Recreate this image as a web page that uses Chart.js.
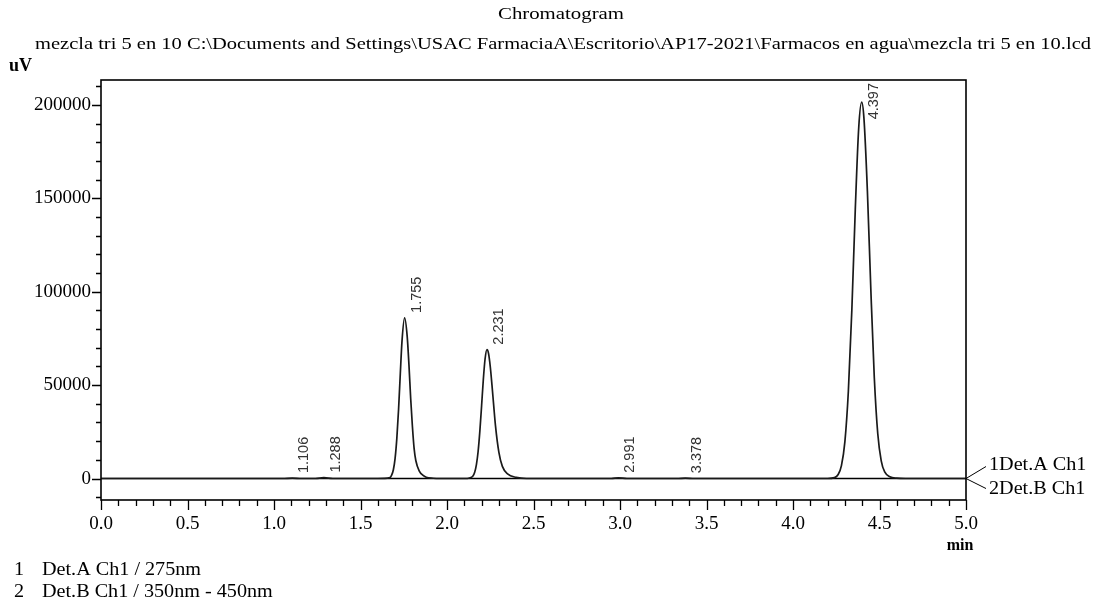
<!DOCTYPE html>
<html>
<head>
<meta charset="utf-8">
<script src="https://cdn.jsdelivr.net/npm/chart.js@4"></script>
<style>
    html, body { margin: 0; padding: 0; background: #fff; }
</style>
</head>
<body>
<canvas id="chromatogram" width="1100" height="600"></canvas>
<script>
let chartTitle = 'Chromatogram';
let chartSubtitle = 'mezcla tri 5 en 10 C:\\Documents and Settings\\USAC FarmaciaA\\Escritorio\\AP17-2021\\Farmacos en agua\\mezcla tri 5 en 10.lcd';
let footerLines = [['1', 'Det.A Ch1 / 275nm'], ['2', 'Det.B Ch1 / 350nm - 450nm']];
let channelLabels = ['1Det.A Ch1', '2Det.B Ch1'];

// Det.A Ch1 trace (min, uV)
let detATime = [0.00, 1.05, 1.106, 1.16, 1.24, 1.288, 1.34,
    1.60, 1.67, 1.68, 1.69, 1.70, 1.71, 1.72, 1.73, 1.74,
    1.755, 1.77, 1.78, 1.79, 1.80, 1.81, 1.82, 1.84, 1.86, 1.88, 1.92, 1.96,
    2.10, 2.13, 2.15, 2.16, 2.17, 2.18, 2.19, 2.20, 2.21, 2.22,
    2.231, 2.24, 2.25, 2.26, 2.27, 2.28, 2.30, 2.32, 2.35, 2.40, 2.46,
    2.95, 2.991, 3.04, 3.33, 3.378, 3.43,
    4.20, 4.24, 4.26, 4.28, 4.30, 4.32, 4.34, 4.36, 4.38,
    4.397, 4.41, 4.43, 4.45, 4.47, 4.49, 4.51, 4.53, 4.56, 4.60, 4.65, 5.00];
let detASignal = [0, 0, 250, 0, 0, 500, 0,
    0, 500, 1800, 4700, 10800, 21500, 37000, 56000, 73700,
    86000, 76000, 61000, 43000, 28000, 16000, 9500, 4000, 1800, 700, 150, 0,
    0, 300, 1400, 3400, 7500, 14600, 25500, 39000, 53000, 64000,
    69000, 67000, 60000, 50000, 39000, 28500, 14000, 6500, 2500, 600, 0,
    0, 400, 0, 0, 200, 0,
    0, 460, 2000, 6900, 19800, 46700, 90000, 144000, 188000,
    201500, 193000, 154000, 101000, 54000, 24000, 9500, 3500, 1000, 200, 0, 0];

// Det.B Ch1 stays on the baseline
let detBTime = [0.0, 5.0];
let detBSignal = [0, 0];

// peak retention times and apex heights
let peakTimes = [1.106, 1.288, 1.755, 2.231, 2.991, 3.378, 4.397];
let peakHeights = [250, 500, 86000, 69000, 400, 200, 201500];

// axis ticks
let xMajorTicks = [0.0, 0.5, 1.0, 1.5, 2.0, 2.5, 3.0, 3.5, 4.0, 4.5, 5.0];
let yMajorTicks = [0, 50000, 100000, 150000, 200000];
let xMinorStep = 0.1;
let yMinorStep = 10000;

let xTicks = [];
for (let i = 0; i <= 50; i++) xTicks.push(Math.round(i * xMinorStep * 10) / 10);
let yTicks = [];
for (let v = -10000; v <= 210000; v += yMinorStep) yTicks.push(v);

let serif = '"Liberation Serif", "DejaVu Serif", serif';

// the printout's serif runs wider than Times, so stretch it a little
function wideText(ctx, text, x, y, sx) {
    ctx.save();
    ctx.translate(x, y);
    ctx.scale(sx, 1);
    ctx.fillText(text, 0, 0);
    ctx.restore();
}

const decorations = {
    id: 'decorations',
    afterDatasetsDraw(chart) {
        let ctx = chart.ctx;
        let area = chart.chartArea;
        let xs = chart.scales.x;
        let ys = chart.scales.y;
        ctx.save();

        // frame
        ctx.strokeStyle = '#000';
        ctx.lineWidth = 1.6;
        ctx.strokeRect(area.left, area.top, area.right - area.left, area.bottom - area.top);

        // tick marks outside the frame
        ctx.lineWidth = 1.3;
        ctx.beginPath();
        yTicks.forEach(v => {
            let py = Math.round(ys.getPixelForValue(v)) + 0.5;
            let len = yMajorTicks.includes(v) ? 9 : 5;
            ctx.moveTo(area.left - len, py);
            ctx.lineTo(area.left, py);
        });
        xTicks.forEach(v => {
            let px = Math.round(xs.getPixelForValue(v)) + 0.5;
            let len = xMajorTicks.includes(v) ? 10 : 6;
            ctx.moveTo(px, area.bottom);
            ctx.lineTo(px, area.bottom + len);
        });
        ctx.stroke();

        // titles
        ctx.fillStyle = '#000';
        ctx.textBaseline = 'middle';
        ctx.textAlign = 'left';
        ctx.font = '17px ' + serif;
        let tw = ctx.measureText(chartTitle).width;
        wideText(ctx, chartTitle, 498, 15, 126 / tw);
        let sw = ctx.measureText(chartSubtitle).width;
        wideText(ctx, chartSubtitle, 35, 45, 1056 / sw);
        ctx.font = 'bold 18px ' + serif;
        ctx.fillText('uV', 9, 66);
        ctx.font = 'bold 16px ' + serif;
        ctx.textAlign = 'center';
        ctx.fillText('min', xs.getPixelForValue(5.0) - 6, 546);

        // footer
        ctx.font = '18px ' + serif;
        ctx.textAlign = 'left';
        footerLines.forEach((line, i) => {
            wideText(ctx, line[0], 14, 570 + i * 22, 1.12);
            wideText(ctx, line[1], 42, 570 + i * 22, 1.12);
        });

        // channel labels on the right
        let y0 = ys.getPixelForValue(0);
        ctx.lineWidth = 1;
        ctx.beginPath();
        ctx.moveTo(area.right, y0);
        ctx.lineTo(area.right + 20, y0 - 12);
        ctx.moveTo(area.right, y0);
        ctx.lineTo(area.right + 20, y0 + 10);
        ctx.stroke();
        wideText(ctx, channelLabels[0], area.right + 23, y0 - 13, 1.12);
        wideText(ctx, channelLabels[1], area.right + 23, y0 + 11, 1.12);

        // retention time labels, rotated
        ctx.font = '14.5px "Liberation Sans", Arial, sans-serif';
        ctx.fillStyle = '#333';
        ctx.textAlign = 'left';
        ctx.textBaseline = 'middle';
        peakTimes.forEach((t, i) => {
            let text = t.toFixed(3);
            let w = ctx.measureText(text).width;
            let px = xs.getPixelForValue(t) + 12;
            let py = ys.getPixelForValue(peakHeights[i]) - 5;
            if (py - w < area.top + 3) py = area.top + 3 + w;
            ctx.save();
            ctx.translate(px, py);
            ctx.rotate(-Math.PI / 2);
            ctx.fillText(text, 0, 0);
            ctx.restore();
        });

        ctx.restore();
    }
};

let ctx = document.getElementById('chromatogram').getContext('2d');
new Chart(ctx, {
    type: 'line',
    data: {
        datasets: [{
            label: 'Det.A Ch1',
            data: detATime.map((t, i) => ({ x: t, y: detASignal[i] })),
            borderColor: '#1a1a1a',
            borderWidth: 1.7,
            pointRadius: 0,
            cubicInterpolationMode: 'monotone',
            fill: false
        }, {
            label: 'Det.B Ch1',
            data: detBTime.map((t, i) => ({ x: t, y: detBSignal[i] })),
            borderColor: '#000',
            borderWidth: 1.5,
            pointRadius: 0,
            fill: false
        }]
    },
    options: {
        responsive: false,
        animation: false,
        devicePixelRatio: 1,
        layout: { padding: { top: 80, right: 134, left: 0, bottom: 0 } },
        plugins: {
            legend: { display: false },
            tooltip: { enabled: false },
            title: { display: false }
        },
        scales: {
            x: {
                type: 'linear',
                min: 0,
                max: 5,
                afterBuildTicks: scale => { scale.ticks = xTicks.map(v => ({ value: v })); },
                afterFit: scale => { scale.height = 100; },
                border: { display: false },
                grid: { drawOnChartArea: false, drawTicks: false, display: false },
                ticks: {
                    autoSkip: false,
                    maxRotation: 0,
                    padding: 13,
                    color: '#000',
                    font: { family: serif, size: 19 },
                    callback: v => xMajorTicks.includes(v) ? v.toFixed(1) : ''
                }
            },
            y: {
                min: -11500,
                max: 213400,
                afterBuildTicks: scale => { scale.ticks = yTicks.map(v => ({ value: v })); },
                afterFit: scale => { scale.width = 101; },
                border: { display: false },
                grid: { drawOnChartArea: false, drawTicks: false, display: false },
                ticks: {
                    autoSkip: false,
                    padding: 10,
                    color: '#000',
                    font: { family: serif, size: 19 },
                    callback: v => yMajorTicks.includes(v) ? String(v) : ''
                }
            }
        }
    },
    plugins: [decorations]
});
</script>
</body>
</html>
